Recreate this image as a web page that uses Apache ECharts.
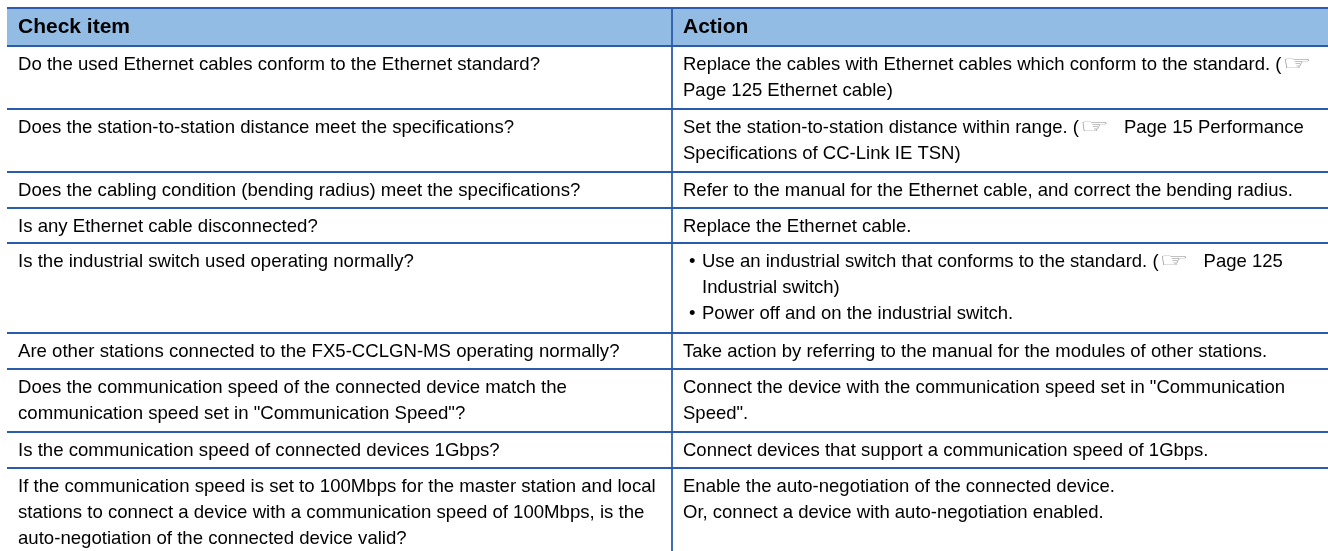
<!DOCTYPE html>
<html>
<head>
<meta charset="utf-8">
<title>Check item table</title>
<script src="https://cdn.jsdelivr.net/npm/echarts@6/dist/echarts.min.js"></script>
<style>
  html, body { margin: 0; padding: 0; background: #fff; }
  #chart { width: 1328px; height: 551px; }
</style>
</head>
<body>
<div id="chart"></div>
<script>
var headers = ["Check item", "Action"];

// one entry per table row, one string per printed line
var checkItems = [
  ["Do the used Ethernet cables conform to the Ethernet standard?"],
  ["Does the station-to-station distance meet the specifications?"],
  ["Does the cabling condition (bending radius) meet the specifications?"],
  ["Is any Ethernet cable disconnected?"],
  ["Is the industrial switch used operating normally?"],
  ["Are other stations connected to the FX5-CCLGN-MS operating normally?"],
  ["Does the communication speed of the connected device match the", "communication speed set in \"Communication Speed\"?"],
  ["Is the communication speed of connected devices 1Gbps?"],
  ["If the communication speed is set to 100Mbps for the master station and local", "stations to connect a device with a communication speed of 100Mbps, is the", "auto-negotiation of the connected device valid?"]
];
var actions = [
  ["Replace the cables with Ethernet cables which conform to the standard. (☞", "Page 125 Ethernet cable)"],
  ["Set the station-to-station distance within range. (☞Page 15 Performance", "Specifications of CC-Link IE TSN)"],
  ["Refer to the manual for the Ethernet cable, and correct the bending radius."],
  ["Replace the Ethernet cable."],
  ["• Use an industrial switch that conforms to the standard. (☞Page 125", "  Industrial switch)", "• Power off and on the industrial switch."],
  ["Take action by referring to the manual for the modules of other stations."],
  ["Connect the device with the communication speed set in \"Communication", "Speed\"."],
  ["Connect devices that support a communication speed of 1Gbps."],
  ["Enable the auto-negotiation of the connected device.", "Or, connect a device with auto-negotiation enabled."]
];

// table layout in axis units
var rowEdges = [8, 46, 109, 172, 208, 243, 333, 369, 432, 468];
var tableLeft = 7;
var tableRight = 1328;
var tableBottom = 551;
var columnEdge = 672;
var textX = [18, 683];
var bulletX = 689;
var hangX = 702;
var lineHeight = 26;
var firstLineOffset = 18.5;
var iconGap = 1;
var iconAdvance = 45;

var lineColor = "#2b5cab";
var headFill = "#92bce3";
var iconColor = "#8a8a8a";
var fontFamily = "'Liberation Sans', Arial, sans-serif";
var bodyFonts = ["18.6px " + fontFamily, "18.5px " + fontFamily];
var headFont = "bold 21px " + fontFamily;

var measure = document.createElement("canvas").getContext("2d");
function textWidth(str, font) {
  measure.font = font;
  return measure.measureText(str).width;
}

var chart = echarts.init(document.getElementById("chart"));

function textEl(x, y, str, font, api) {
  var p = api.coord([x, y]);
  return {
    type: "text",
    style: { x: p[0], y: p[1], text: str, fill: "#000", font: font, verticalAlign: "middle", align: "left" }
  };
}

// the hand glyph is stretched sideways, it is wider than tall in the reference
function iconEl(x, y, api) {
  var p = api.coord([x, y]);
  return {
    type: "text",
    x: p[0],
    y: p[1],
    scaleX: 1.65,
    scaleY: 1,
    style: { x: 0, y: 0, text: "☞", fill: iconColor, font: "20px 'DejaVu Sans'", verticalAlign: "middle", align: "left" }
  };
}

function lineEl(x1, y1, x2, y2, api) {
  var a = api.coord([x1, y1]);
  var b = api.coord([x2, y2]);
  return {
    type: "line",
    shape: { x1: a[0], y1: a[1], x2: b[0], y2: b[1] },
    style: { stroke: lineColor, lineWidth: 1.8 }
  };
}

function renderFrame(params, api) {
  var children = [];
  var a = api.coord([tableLeft, rowEdges[0]]);
  var b = api.coord([tableRight, rowEdges[1]]);
  children.push({
    type: "rect",
    shape: { x: a[0], y: a[1], width: b[0] - a[0], height: b[1] - a[1] },
    style: { fill: headFill }
  });
  rowEdges.forEach(function (y) {
    children.push(lineEl(tableLeft, y, tableRight, y, api));
  });
  children.push(lineEl(columnEdge, rowEdges[0], columnEdge, tableBottom, api));
  return { type: "group", children: children };
}

function renderHeader(params, api) {
  var col = api.value(0);
  return textEl(textX[col], (rowEdges[0] + rowEdges[1]) / 2, headers[col], headFont, api);
}

function pushLine(children, x, y, line, font, api) {
  var parts = line.split("☞");
  children.push(textEl(x, y, parts[0], font, api));
  if (parts.length > 1) {
    var end = x + textWidth(parts[0], font);
    children.push(iconEl(end + iconGap, y, api));
    if (parts[1]) {
      children.push(textEl(end + iconAdvance, y, parts[1], font, api));
    }
  }
}

function renderRow(params, api) {
  var col = api.value(0);
  var row = api.value(1);
  var lines = (col === 0 ? checkItems : actions)[row];
  var font = bodyFonts[col];
  var children = [];
  lines.forEach(function (line, i) {
    var y = rowEdges[row + 1] + firstLineOffset + i * lineHeight;
    if (line.indexOf("• ") === 0) {
      children.push(textEl(bulletX, y, "•", font, api));
      pushLine(children, hangX, y, line.slice(2), font, api);
    } else if (line.indexOf("  ") === 0) {
      pushLine(children, hangX, y, line.slice(2), font, api);
    } else {
      pushLine(children, textX[col], y, line, font, api);
    }
  });
  return { type: "group", children: children };
}

var rowData = [];
checkItems.forEach(function (r, i) {
  rowData.push([0, i]);
  rowData.push([1, i]);
});

chart.setOption({
  animation: false,
  backgroundColor: "#fff",
  grid: { left: 0, right: 0, top: 0, bottom: 0 },
  xAxis: { type: "value", min: 0, max: 1328, show: false },
  yAxis: { type: "value", min: 0, max: 551, inverse: true, show: false },
  series: [
    { type: "custom", coordinateSystem: "cartesian2d", silent: true, clip: false, data: [[0, 0]], renderItem: renderFrame, encode: { x: 0, y: 1 }, z: 1 },
    { type: "custom", coordinateSystem: "cartesian2d", silent: true, clip: false, data: [[0, 0], [1, 0]], renderItem: renderHeader, encode: { x: 0, y: 1 }, z: 2 },
    { type: "custom", coordinateSystem: "cartesian2d", silent: true, clip: false, data: rowData, renderItem: renderRow, encode: { x: 0, y: 1 }, z: 2 }
  ]
});
</script>
</body>
</html>
